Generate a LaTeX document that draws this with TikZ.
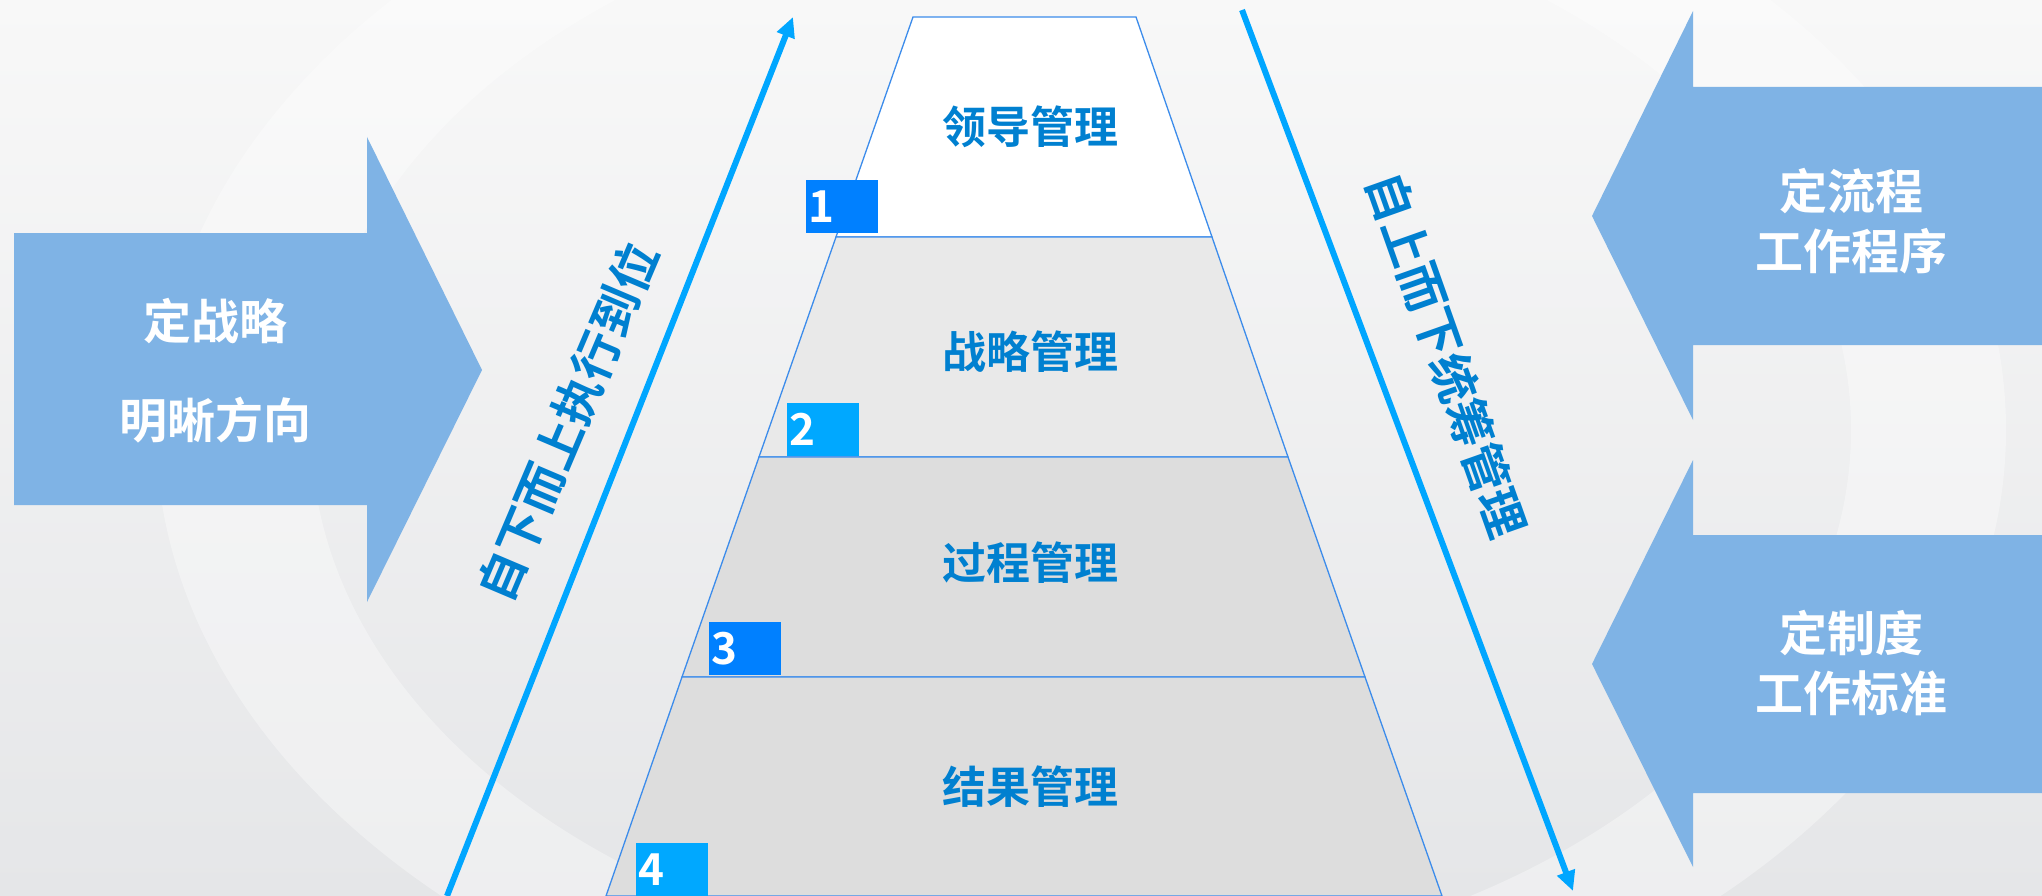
\documentclass[tikz,border=0pt]{standalone}
\usepackage{fontspec}
\usepackage{xcolor}
\newfontfamily\cjk{Noto Sans CJK SC Bold}
\usetikzlibrary{arrows.meta}

\definecolor{bgtop}{RGB}{248,248,248}
\definecolor{bgbottom}{RGB}{229,230,232}
\definecolor{blockblue}{RGB}{127,179,229}
\definecolor{flowblue}{RGB}{0,166,255}
\definecolor{labelblue}{RGB}{0,128,208}
\definecolor{tieredge}{RGB}{60,140,235}
\definecolor{tiergray}{RGB}{233,233,233}
\definecolor{tierdark}{RGB}{221,221,221}
\definecolor{boxdeep}{RGB}{0,128,255}
\definecolor{boxlight}{RGB}{0,168,255}

\begin{document}
\begin{tikzpicture}[
	x = 1pt, y = -1pt,
	tier/.style = {draw = tieredge, line width = 1.3pt},
	tierlabel/.style = {text = labelblue, font = \cjk\fontsize{44}{44}\selectfont},
	numbox/.style = {anchor = north west, minimum width = 72pt, minimum height = 53pt,
		text width = 68pt, inner xsep = 2pt, align = left, text = white,
		font = \cjk\fontsize{44}{44}\selectfont},
	sidelabel/.style = {text = labelblue, font = \cjk\fontsize{48}{48}\selectfont},
	blocktext/.style = {text = white, align = center},
	flow/.style = {flowblue, line width = 6pt, -{Triangle[length = 20pt, width = 18pt]}}
]
\useasboundingbox (0,0) rectangle (2042,896);
\clip (0,0) rectangle (2042,896);

% background
\shade[top color = bgtop, bottom color = bgbottom] (0,0) rectangle (2042,896);
\fill[white, opacity = 0.35, even odd rule]
	(1081,430) ellipse [x radius = 925pt, y radius = 645pt]
	(1081,430) ellipse [x radius = 770pt, y radius = 540pt];

% tiers
\coordinate (t0l) at (913,17);  \coordinate (t0r) at (1136,17);
\coordinate (t1l) at (836,237); \coordinate (t1r) at (1212,237);
\coordinate (t2l) at (759,457); \coordinate (t2r) at (1288,457);
\coordinate (t3l) at (682,677); \coordinate (t3r) at (1365,677);
\coordinate (t4l) at (606,896); \coordinate (t4r) at (1442,896);

\filldraw[tier, fill = white]    (t0l) -- (t0r) -- (t1r) -- (t1l) -- cycle;
\filldraw[tier, fill = tiergray] (t1l) -- (t1r) -- (t2r) -- (t2l) -- cycle;
\filldraw[tier, fill = tierdark] (t2l) -- (t2r) -- (t3r) -- (t3l) -- cycle;
\filldraw[tier, fill = tierdark] (t3l) -- (t3r) -- (t4r) -- (t4l) -- cycle;

\node[tierlabel] (lead)    at (1030,127) {领导管理};
\node[tierlabel] (strat)   at (1030,352) {战略管理};
\node[tierlabel] (process) at (1030,563) {过程管理};
\node[tierlabel] (result)  at (1030,787) {结果管理};

\node[numbox, fill = boxdeep]  (n1) at (806,180) {1};
\node[numbox, fill = boxlight] (n2) at (787,403) {2};
\node[numbox, fill = boxdeep]  (n3) at (709,622) {3};
\node[numbox, fill = boxlight] (n4) at (636,843) {4};

% flow arrows
\coordinate (upfoot) at (447,896);
\coordinate (uptip) at (793,17);
\draw[flow] (upfoot) -- (uptip);
\node[sidelabel, rotate = 67] (upward) at (568,422) {自下而上执行到位};

\coordinate (downfoot) at (1242,10);
\coordinate (downtip) at (1573,891);
\draw[flow] (downfoot) -- (downtip);
\node[sidelabel, rotate = -70.5] (downward) at (1447,355) {自上而下统筹管理};

% block arrows
\fill[blockblue] (14,233) -- (367,233) -- (367,137) -- (482,370)
	-- (367,602) -- (367,505) -- (14,505) -- cycle;
\node[blocktext, font = \cjk\fontsize{48}{99}\selectfont] (strategy) at (215,371) {定战略\\明晰方向};

\fill[blockblue] (2042,87) -- (1693,87) -- (1693,11) -- (1592,216)
	-- (1693,420) -- (1693,345) -- (2042,345) -- cycle;
\node[blocktext, font = \cjk\fontsize{48}{60}\selectfont] (flowproc) at (1851,221) {定流程\\工作程序};

\fill[blockblue] (2042,535) -- (1693,535) -- (1693,460) -- (1592,664)
	-- (1693,867) -- (1693,793) -- (2042,793) -- cycle;
\node[blocktext, font = \cjk\fontsize{48}{60}\selectfont] (rules) at (1851,663) {定制度\\工作标准};
\end{tikzpicture}
\end{document}
